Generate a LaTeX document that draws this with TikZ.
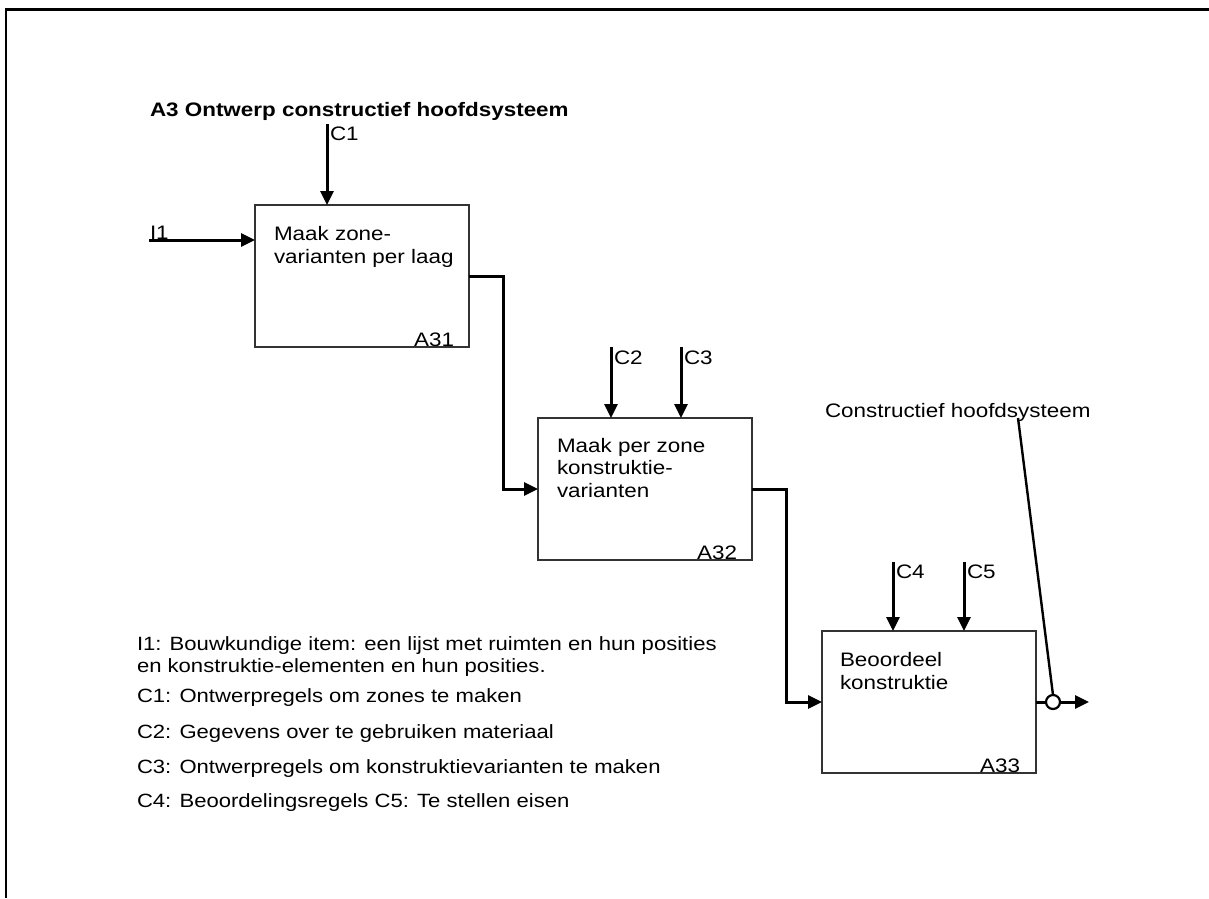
\documentclass[tikz,border=0pt]{standalone}
\usepackage{fontspec}
\setmainfont{Liberation Sans}[FakeStretch=1.15]
\usetikzlibrary{arrows.meta,calc}
\begin{document}
\begin{tikzpicture}[x=1pt,y=-1pt,
  every node/.style={font=\fontsize{19.5}{22.5}\selectfont, inner sep=0pt, outer sep=0pt},
  txt/.style={anchor=base west, align=left},
  numlbl/.style={anchor=base east},
  actbox/.style={draw=black!80, line width=1.2pt, minimum width=214pt,
                 minimum height=142pt, anchor=north west},
  flow/.style={line width=3pt, -{Triangle[length=14pt,width=13pt]}},
  plain/.style={line width=3pt},
  frame/.style={line width=2.8pt}
]
\useasboundingbox (0,0) rectangle (1209,898);

% outer frame (top and left edges)
\draw[frame] (1209,9.5) -- (6,9.5) -- (6,898);

% title
\node[txt, font=\fontsize{19.5}{22.5}\selectfont\bfseries] (title) at (150,116)
  {A3 Ontwerp constructief hoofdsysteem};

% activity boxes
\node[actbox] (a31) at (255,205) {};
\node[actbox] (a32) at (538,418) {};
\node[actbox] (a33) at (822,631) {};

% box texts (anchored on the baseline of the last line)
\node[txt] (t31) at ($(a31.north west)+(19,58)$) {Maak zone-\\varianten per laag};
\node[txt] (t32) at ($(a32.north west)+(19,79)$) {Maak per zone\\konstruktie-\\varianten};
\node[txt] (t33) at ($(a33.north west)+(18,58)$) {Beoordeel\\konstruktie};

% box numbers
\node[numlbl] (n31) at ($(a31.south east)+(-15,-1)$) {A31};
\node[numlbl] (n32) at ($(a32.south east)+(-15,-1)$) {A32};
\node[numlbl] (n33) at ($(a33.south east)+(-16,-1)$) {A33};

% controls
\coordinate (c1) at (327,124);
\coordinate (c2) at (611,347);
\coordinate (c3) at (681,347);
\coordinate (c4) at (893,562);
\coordinate (c5) at (964,562);
\node[txt] (lc1) at (330,140) {C1};
\node[txt] (lc2) at (614,364) {C2};
\node[txt] (lc3) at (684,364) {C3};
\node[txt] (lc4) at (896,578) {C4};
\node[txt] (lc5) at (967,578) {C5};
\draw[flow] (c1) -- (c1 |- a31.north);
\draw[flow] (c2) -- (c2 |- a32.north);
\draw[flow] (c3) -- (c3 |- a32.north);
\draw[flow] (c4) -- (c4 |- a33.north);
\draw[flow] (c5) -- (c5 |- a33.north);

% input
\coordinate (i1) at (149,240);
\node[txt] (li1) at (150,239) {I1};
\draw[flow] (i1) -- (i1 -| a31.west);

% flows between activities
\draw[flow] (a31.east) -- ++(34,0) |- (a32.west);
\draw[flow] (a32.east) -- ++(34,0) |- (a33.west);

% output with tunnel circle
\node[circle, draw, line width=2.2pt, minimum size=14pt] (out) at (1053,702) {};
\coordinate (outend) at (1089,702);
\draw[plain] (a33.east) -- (out.west);
\draw[flow] (out.east) -- (outend);
\node[txt] (lout) at (825,417) {Constructief hoofdsysteem};
\coordinate (lead) at (1018,418);
\draw[line width=2.4pt] (lead) -- (out.north);

% legend (anchored on the baseline of its last line)
\node[txt, font=\fontsize{19.2}{22}\selectfont] (legend) at (137,807)
  {I1: Bouwkundige item: een lijst met ruimten en hun posities\\
en konstruktie-elementen en hun posities.\\[8.5pt]
C1: Ontwerpregels om zones te maken\\[13.5pt]
C2: Gegevens over te gebruiken materiaal\\[13.5pt]
C3: Ontwerpregels om konstruktievarianten te maken\\[11.5pt]
C4: Beoordelingsregels C5: Te stellen eisen};
\end{tikzpicture}
\end{document}
